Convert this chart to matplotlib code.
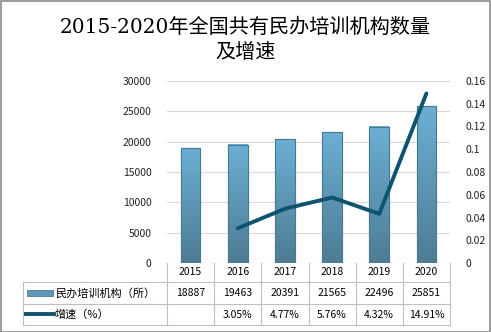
import numpy as np
import matplotlib.pyplot as plt
import matplotlib.transforms as mtransforms
from matplotlib.patches import Rectangle
from matplotlib.colors import LinearSegmentedColormap

plt.rcParams['font.family'] = ['Noto Sans CJK SC', 'DejaVu Sans']

years = ['2015', '2016', '2017', '2018', '2019', '2020']
counts = [18887, 19463, 20391, 21565, 22496, 25851]
growth = [None, 0.0305, 0.0477, 0.0576, 0.0432, 0.1491]
growth_labels = ['', '3.05%', '4.77%', '5.76%', '4.32%', '14.91%']
bar_name = '民办培训机构（所）'
line_name = '增速（%）'

W, H = 491, 332
fig = plt.figure(figsize=(W / 100, H / 100), dpi=100)

# overlay in pixel coords for table / frame
over = fig.add_axes([0, 0, 1, 1])
over.set_xlim(0, W)
over.set_ylim(H, 0)
over.axis('off')

ax = fig.add_axes([167 / W, 1 - 263 / H, (450 - 167) / W, (263 - 81) / H])
x = np.arange(len(years))
bars = ax.bar(x, counts, width=0.42, color='#5E9AB8', edgecolor='#4A7A90', linewidth=0.8, zorder=2)

# vertical gradient inside each bar
grad = np.linspace(0, 1, 100).reshape(-1, 1)
cmap = LinearSegmentedColormap.from_list('b', ['#4E7C94', '#6BAFD3'])
for b in bars:
    ax.imshow(grad, extent=(b.get_x(), b.get_x() + b.get_width(), 0, b.get_height()),
              origin='lower', aspect='auto', cmap=cmap, zorder=2.1)
    ax.add_patch(Rectangle((b.get_x(), 0), b.get_width(), b.get_height(),
                           fill=False, edgecolor='#4A7A90', linewidth=0.8, zorder=2.2))

ax.set_xlim(-0.5, len(years) - 0.5)
ax.set_ylim(0, 30000)
ax.set_yticks(range(0, 30001, 5000))
ax.grid(axis='y', color='#D9D9D9', linewidth=0.8, zorder=0)
ax.set_axisbelow(True)
for s in ax.spines.values():
    s.set_visible(False)
ax.set_xticks([])
ax.tick_params(axis='y', length=0, pad=11, labelsize=7.5, labelcolor='#222222')

ax2 = ax.twinx()
gx = [i for i, g in enumerate(growth) if g is not None]
gy = [g for g in growth if g is not None]
ax2.plot(gx, gy, color='#0E5470', linewidth=2.8, solid_capstyle='round', zorder=3)
ax2.set_ylim(0, 0.16)
ax2.set_yticks(np.arange(0, 0.161, 0.02))
ax2.set_yticklabels(['0', '0.02', '0.04', '0.06', '0.08', '0.1', '0.12', '0.14', '0.16'])
for s in ax2.spines.values():
    s.set_visible(False)
ax2.tick_params(axis='y', length=0, pad=11, labelsize=7.5, labelcolor='#222222')

# title
over.text(W / 2, 27, '2015-2020年全国共有民办培训机构数量', ha='center', va='center',
          fontsize=14.5, family=['DejaVu Serif', 'Noto Sans CJK SC'])
over.text(W / 2, 53, '及增速', ha='center', va='center',
          fontsize=14.5, family=['DejaVu Serif', 'Noto Sans CJK SC'])

# data table
gc = '#BFBFBF'
tr = mtransforms.blended_transform_factory(ax.transData, over.transData)
over.plot([23, 450], [282, 282], color=gc, lw=0.8)
over.plot([23, 450], [304, 304], color=gc, lw=0.8)
over.plot([23, 450], [325, 325], color=gc, lw=0.8)
over.plot([23, 23], [282, 325], color=gc, lw=0.8)
for i in range(len(years) + 1):
    over.plot([i - 0.5, i - 0.5], [263, 325], color=gc, lw=0.8, transform=tr)
for i, yr in enumerate(years):
    over.text(i, 272, yr, ha='center', va='center', fontsize=7.5, transform=tr)
    over.text(i, 293, str(counts[i]), ha='center', va='center', fontsize=7.5, transform=tr)
    over.text(i, 314.5, growth_labels[i], ha='center', va='center', fontsize=7.5, transform=tr)

# legend keys
over.add_patch(Rectangle((27, 290), 26, 6, facecolor='#5E9AB8', edgecolor='#4A7A90', lw=0.6))
over.plot([26, 54], [314, 314], color='#0E5470', lw=2.8)
over.text(55, 293, bar_name, ha='left', va='center', fontsize=8)
over.text(55, 314.5, line_name, ha='left', va='center', fontsize=8)

# outer frame
over.add_patch(Rectangle((0.5, 0.5), W - 1, H - 1, fill=False, edgecolor='#8C8C8C', lw=1.2))

fig.savefig('out.png', dpi=100)
